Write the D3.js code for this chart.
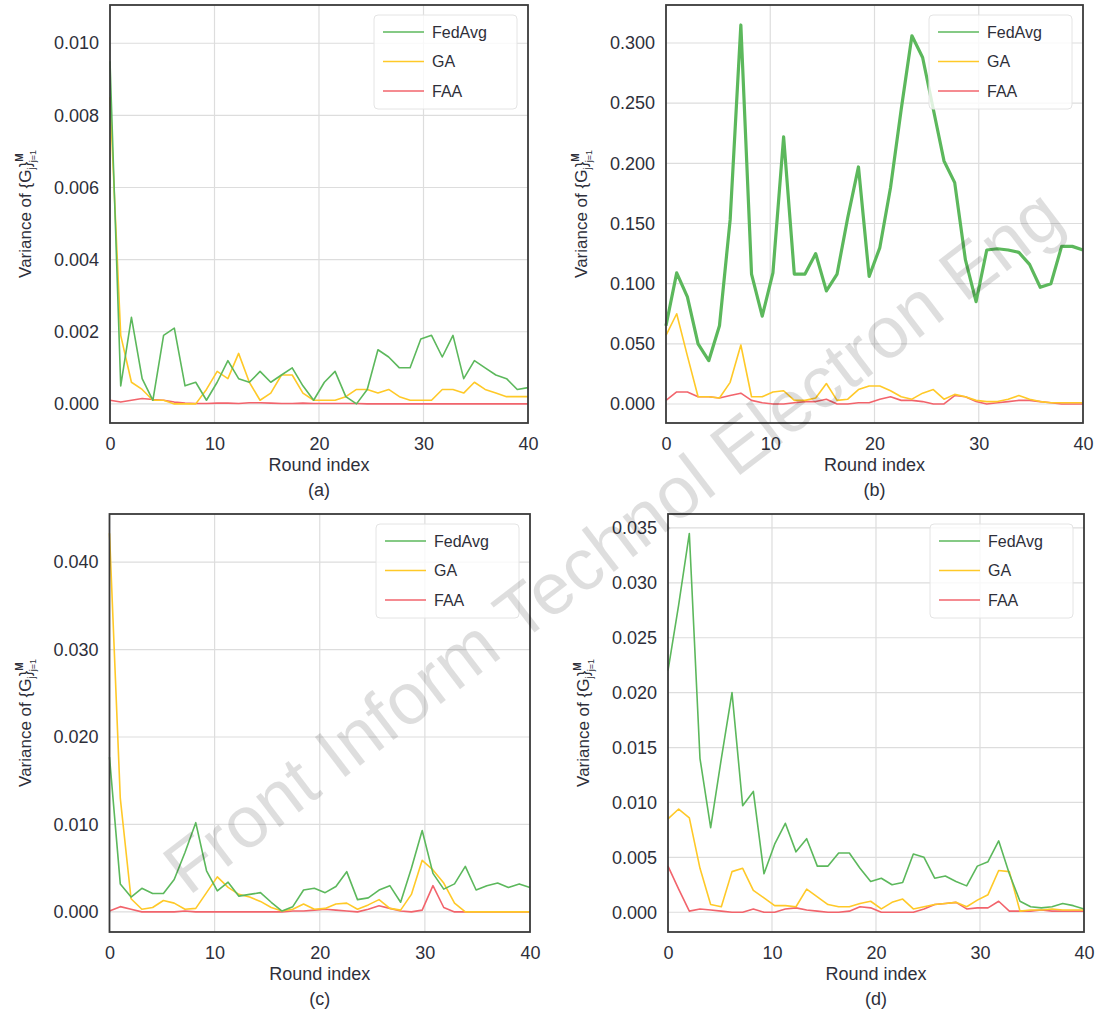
<!DOCTYPE html>
<html>
<head>
<meta charset="utf-8">
<script src="https://cdn.jsdelivr.net/npm/d3@7"></script>
<style>
  body { margin: 0; background: #fff; }
  svg { display: block; }
  text { font-family: "Liberation Sans", Arial, sans-serif; }
</style>
</head>
<body>
<svg id="chart" width="1097" height="1011"></svg>
<script>
// 40 rounds, spread over 0..40 on the x axis
const rounds = d3.range(40).map(i => i * 40 / 39);
const xTicks = [0, 10, 20, 30, 40];
const seriesNames = ["FedAvg", "GA", "FAA"];

// (a)
const fedavgA = [0.0095, 0.0005, 0.0024, 0.0007, 0.0001, 0.0019, 0.0021, 0.0005, 0.0006, 0.0001,
  0.0006, 0.0012, 0.0007, 0.0006, 0.0009, 0.0006, 0.0008, 0.0010, 0.0005, 0.0001,
  0.0006, 0.0009, 0.0002, 0.0000, 0.0004, 0.0015, 0.0013, 0.0010, 0.0010, 0.0018,
  0.0019, 0.0013, 0.0019, 0.0007, 0.0012, 0.0010, 0.0008, 0.0007, 0.0004, 0.00045];
const gaA = [0.0085, 0.0019, 0.0006, 0.0004, 0.0001, 0.0001, 0.0000, 0.0000, 0.0000, 0.0004,
  0.0009, 0.0007, 0.0014, 0.0006, 0.0001, 0.0003, 0.0008, 0.0008, 0.0003, 0.0001,
  0.0001, 0.0001, 0.0002, 0.0004, 0.0004, 0.0003, 0.0004, 0.0002, 0.0001, 0.0001,
  0.0001, 0.0004, 0.0004, 0.0003, 0.0006, 0.0004, 0.0003, 0.0002, 0.0002, 0.0002];
const faaA = [0.0001, 0.00005, 0.0001, 0.00015, 0.00012, 0.0001, 0.00005, 0.00002, 0.00001, 0.00001,
  0.00002, 0.00002, 0.00001, 0.00003, 0.00003, 0.00002, 0.00001, 0.00001, 0.00002, 0.00001,
  0.00001, 0.00001, 0.00001, 0.00001, 0, 0, 0, 0, 0, 0,
  0, 0, 0, 0, 0, 0, 0, 0, 0, 0];
const yTicksA = [0, 0.002, 0.004, 0.006, 0.008, 0.010];

// (b)
const fedavgB = [0.065, 0.109, 0.089, 0.050, 0.036, 0.065, 0.153, 0.315, 0.108, 0.073,
  0.109, 0.222, 0.108, 0.108, 0.125, 0.094, 0.108, 0.155, 0.197, 0.106,
  0.130, 0.180, 0.245, 0.306, 0.288, 0.245, 0.202, 0.184, 0.120, 0.085,
  0.128, 0.129, 0.128, 0.126, 0.116, 0.097, 0.100, 0.131, 0.131, 0.128];
const gaB = [0.057, 0.075, 0.040, 0.006, 0.006, 0.005, 0.018, 0.049, 0.006, 0.006,
  0.010, 0.011, 0.003, 0.003, 0.005, 0.017, 0.003, 0.004, 0.012, 0.015,
  0.015, 0.011, 0.006, 0.004, 0.009, 0.012, 0.004, 0.008, 0.006, 0.003,
  0.002, 0.002, 0.004, 0.007, 0.004, 0.002, 0.001, 0.001, 0.001, 0.001];
const faaB = [0.003, 0.010, 0.010, 0.006, 0.006, 0.005, 0.007, 0.009, 0.003, 0.001,
  0.000, 0.000, 0.001, 0.002, 0.002, 0.004, 0.000, 0.000, 0.001, 0.001,
  0.004, 0.006, 0.003, 0.003, 0.002, 0.000, 0.000, 0.007, 0.006, 0.002,
  0.000, 0.001, 0.002, 0.003, 0.003, 0.002, 0.001, 0.000, 0.000, 0.000];
const yTicksB = [0, 0.05, 0.10, 0.15, 0.20, 0.25, 0.30];

// (c)
const fedavgC = [0.0177, 0.0032, 0.0017, 0.0027, 0.0021, 0.0021, 0.0037, 0.0068, 0.0102, 0.0047,
  0.0024, 0.0034, 0.0018, 0.0020, 0.0022, 0.0011, 0.0001, 0.0006, 0.0025, 0.0027,
  0.0022, 0.0029, 0.0046, 0.0014, 0.0016, 0.0025, 0.0030, 0.0011, 0.0050, 0.0093,
  0.0044, 0.0026, 0.0032, 0.0052, 0.0025, 0.0030, 0.0033, 0.0028, 0.0032, 0.0028];
const gaC = [0.0433, 0.0130, 0.0015, 0.0003, 0.0005, 0.0013, 0.0010, 0.0003, 0.0004, 0.0022,
  0.0040, 0.0028, 0.0020, 0.0017, 0.0012, 0.0005, 0.0001, 0.0003, 0.0009, 0.0003,
  0.0004, 0.0009, 0.0010, 0.0003, 0.0008, 0.0014, 0.0004, 0.0002, 0.0020, 0.0059,
  0.0048, 0.0033, 0.0010, 0.0000, 0.0000, 0.0000, 0.0000, 0.0000, 0.0000, 0.0000];
const faaC = [0.0001, 0.0006, 0.0003, 0.0000, 0.0000, 0.0000, 0.0000, 0.0001, 0.0000, 0.0000,
  0.0000, 0.0000, 0.0000, 0.0000, 0.0000, 0.0000, 0.0000, 0.0001, 0.0001, 0.0002,
  0.0003, 0.0002, 0.0001, 0.0000, 0.0003, 0.0007, 0.0004, 0.0001, 0.0000, 0.0002,
  0.0030, 0.0005, 0.0000, 0.0000, 0.0000, 0.0000, 0.0000, 0.0000, 0.0000, 0.0000];
const yTicksC = [0, 0.01, 0.02, 0.03, 0.04];

// (d)
const fedavgD = [0.0220, 0.0280, 0.0345, 0.0140, 0.0077, 0.0140, 0.0200, 0.0097, 0.0110, 0.0035,
  0.0062, 0.0081, 0.0055, 0.0067, 0.0042, 0.0042, 0.0054, 0.0054, 0.0040, 0.0028,
  0.0031, 0.0025, 0.0027, 0.0053, 0.0050, 0.0031, 0.0033, 0.0028, 0.0024, 0.0042,
  0.0046, 0.0065, 0.0035, 0.0010, 0.0005, 0.0004, 0.0005, 0.0008, 0.0006, 0.0003];
const gaD = [0.0085, 0.0094, 0.0086, 0.0040, 0.0007, 0.0005, 0.0037, 0.0040, 0.0020, 0.0013,
  0.0006, 0.0006, 0.0005, 0.0021, 0.0014, 0.0007, 0.0005, 0.0005, 0.0008, 0.0010,
  0.0003, 0.0009, 0.0012, 0.0003, 0.0005, 0.0007, 0.0008, 0.0009, 0.0005, 0.0011,
  0.0016, 0.0038, 0.0037, 0.0001, 0.0002, 0.0002, 0.0003, 0.0002, 0.0002, 0.0002];
const faaD = [0.0042, 0.0021, 0.0001, 0.0003, 0.0002, 0.0001, 0.0000, 0.0000, 0.0003, 0.0000,
  0.0000, 0.0003, 0.0004, 0.0002, 0.0001, 0.0000, 0.0000, 0.0001, 0.0005, 0.0004,
  0.0000, 0.0000, 0.0000, 0.0000, 0.0003, 0.0007, 0.0008, 0.0009, 0.0003, 0.0004,
  0.0004, 0.0010, 0.0001, 0.0001, 0.0001, 0.0002, 0.0001, 0.0001, 0.0001, 0.0001];
const yTicksD = [0, 0.005, 0.010, 0.015, 0.020, 0.025, 0.030, 0.035];

const colors = { FedAvg: "#5cb85c", GA: "#ffc928", FAA: "#f2646c" };
const textColor = "#2e2f3a";

const panels = [
  { tag: "(a)", left: 110, top: 5, w: 418, h: 418, yDomain: [-0.00053, 0.01106], yTicks: yTicksA,
    data: [fedavgA, gaA, faaA], fedWidth: 1.6 },
  { tag: "(b)", left: 666, top: 5, w: 417, h: 418, yDomain: [-0.0158, 0.3316], yTicks: yTicksB,
    data: [fedavgB, gaB, faaB], fedWidth: 3.2 },
  { tag: "(c)", left: 109.5, top: 514, w: 420.5, h: 418, yDomain: [-0.0023, 0.0455], yTicks: yTicksC,
    data: [fedavgC, gaC, faaC], fedWidth: 1.6 },
  { tag: "(d)", left: 668, top: 514, w: 416, h: 418, yDomain: [-0.0018, 0.03627], yTicks: yTicksD,
    data: [fedavgD, gaD, faaD], fedWidth: 1.6 }
];

const svg = d3.select("#chart");

const drawPanel = (p) => {
  const x = d3.scaleLinear().domain([0, 40]).range([p.left, p.left + p.w]);
  const y = d3.scaleLinear().domain(p.yDomain).range([p.top + p.h, p.top]);
  const g = svg.append("g");

  // grid
  g.append("g").selectAll("line").data(xTicks.slice(1, -1)).join("line")
    .attr("x1", d => x(d)).attr("x2", d => x(d))
    .attr("y1", p.top).attr("y2", p.top + p.h)
    .attr("stroke", "#dddddd").attr("stroke-width", 1.2);
  g.append("g").selectAll("line").data(p.yTicks).join("line")
    .attr("x1", p.left).attr("x2", p.left + p.w)
    .attr("y1", d => y(d)).attr("y2", d => y(d))
    .attr("stroke", "#dddddd").attr("stroke-width", 1.2);

  // axes
  const bottomAxis = d3.axisBottom(x).tickValues(xTicks).tickSize(0).tickPadding(14)
    .tickFormat(d3.format("d"));
  g.append("g")
    .attr("transform", `translate(0,${p.top + p.h})`)
    .call(bottomAxis)
    .call(a => a.select(".domain").remove())
    .call(a => a.selectAll("text").attr("font-size", 18).attr("fill", textColor)
      .attr("font-family", "Liberation Sans, Arial, sans-serif"));

  const leftAxis = d3.axisLeft(y).tickValues(p.yTicks).tickSize(0).tickPadding(11)
    .tickFormat(d3.format(".3f"));
  g.append("g")
    .attr("transform", `translate(${p.left},0)`)
    .call(leftAxis)
    .call(a => a.select(".domain").remove())
    .call(a => a.selectAll("text").attr("font-size", 18).attr("fill", textColor)
      .attr("font-family", "Liberation Sans, Arial, sans-serif"));

  // lines
  const line = d3.line().x((d, i) => x(rounds[i])).y(d => y(d));
  [2, 1, 0].forEach(k => {
    const name = seriesNames[k];
    g.append("path")
      .datum(p.data[k])
      .attr("d", line)
      .attr("fill", "none")
      .attr("stroke", colors[name])
      .attr("stroke-width", k === 0 ? p.fedWidth : 1.6)
      .attr("stroke-linejoin", "round");
  });

  // frame
  g.append("rect")
    .attr("x", p.left).attr("y", p.top).attr("width", p.w).attr("height", p.h)
    .attr("fill", "none").attr("stroke", "#3a3a3a").attr("stroke-width", 1.8);

  // legend
  const lx = p.left + p.w - 11 - 143;
  const ly = p.top + 10;
  const legend = g.append("g");
  legend.append("rect")
    .attr("x", lx).attr("y", ly).attr("width", 143).attr("height", 94).attr("rx", 4)
    .attr("fill", "#fff").attr("fill-opacity", 0.8)
    .attr("stroke", "#e4e4e4").attr("stroke-width", 1);
  seriesNames.forEach((name, i) => {
    const yy = ly + 17 + i * 29.5;
    legend.append("line")
      .attr("x1", lx + 9).attr("x2", lx + 50).attr("y1", yy).attr("y2", yy)
      .attr("stroke", colors[name]).attr("stroke-width", 1.6);
    legend.append("text")
      .attr("x", lx + 58).attr("y", yy).attr("dy", "0.35em")
      .attr("font-size", 16).attr("fill", textColor)
      .text(name);
  });

  // axis titles
  svg.append("text")
    .attr("x", p.left + p.w / 2).attr("y", p.top + p.h + 48)
    .attr("text-anchor", "middle").attr("font-size", 18).attr("fill", textColor)
    .text("Round index");
  svg.append("text")
    .attr("x", p.left + p.w / 2).attr("y", p.top + p.h + 73)
    .attr("text-anchor", "middle").attr("font-size", 18).attr("fill", textColor)
    .text(p.tag);

  const yl = svg.append("text")
    .attr("transform", `translate(${p.left - 79},${p.top + p.h / 2}) rotate(-90)`)
    .attr("text-anchor", "middle").attr("font-size", 17).attr("fill", textColor);
  yl.append("tspan").text("Variance of {G");
  yl.append("tspan").attr("font-size", 10).attr("dy", 4).text("j");
  yl.append("tspan").attr("dy", -4).text("}");
  yl.append("tspan").attr("font-size", 10).attr("dy", -8).attr("font-weight", "bold").text("M");
  yl.append("tspan").attr("font-size", 9).attr("dx", -9).attr("dy", 13).text("j=1");
};

panels.forEach(drawPanel);

// watermark
svg.append("text")
  .attr("transform", "translate(612,540) rotate(-37.4)")
  .attr("text-anchor", "middle").attr("dy", "0.36em")
  .attr("font-size", 73).attr("fill", "#000").attr("fill-opacity", 0.13)
  .text("Front Inform Technol Electron Eng");
</script>
</body>
</html>
